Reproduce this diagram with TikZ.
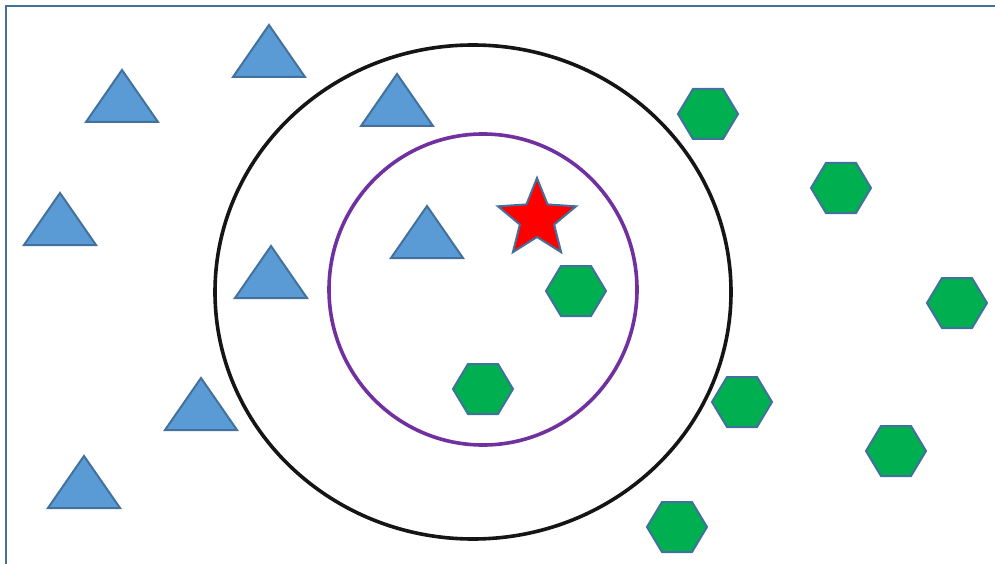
\documentclass[tikz,border=0pt]{standalone}
\usetikzlibrary{shapes.geometric}
\definecolor{edgeblue}{HTML}{41719C}
\definecolor{triblue}{HTML}{5B9BD5}
\definecolor{hexgreen}{HTML}{00B050}
\definecolor{knnpurple}{HTML}{7030A0}
\definecolor{ringblack}{HTML}{151515}
\tikzset{
  tri/.style={draw=edgeblue, fill=triblue, line width=2pt, line join=miter},
  hexa/.style={draw=edgeblue, fill=hexgreen, line width=2pt},
  starry/.style={draw=edgeblue, fill=red, line width=2pt, line join=miter},
  ring/.style={line width=3.6pt},
  frame/.style={draw=edgeblue, line width=2.2pt}
}
\begin{document}
\begin{tikzpicture}[x=1pt,y=-1pt]
\useasboundingbox (0,0) rectangle (995,564);
\fill[white] (0,0) rectangle (995,564);
\draw[frame] (6,570) -- (6,6) -- (1000,6);
% rings
\draw[ring, draw=ringblack] (473,292) ellipse [x radius=258, y radius=247];
\draw[ring, draw=knnpurple] (483,289.5) ellipse [x radius=154, y radius=155.5];
% triangles: apex x, apex y
\foreach \ax/\ay in {122/70, 269/25, 397/74, 60/193, 271/246, 427/206, 201/378, 84/456}{
  \draw[tri] (\ax,\ay) -- (\ax+36,\ay+52) -- (\ax-36,\ay+52) -- cycle;
}
% hexagons: centers
\foreach \cx/\cy in {708/114, 841/188, 957/303, 576/291, 483/389, 742/402, 896/451, 677/527}{
  \draw[hexa] (\cx-30,\cy) -- (\cx-15,\cy-25) -- (\cx+15,\cy-25) -- (\cx+30,\cy) -- (\cx+15,\cy+25) -- (\cx-15,\cy+25) -- cycle;
}
% star
\coordinate (sc) at (537,219);
\draw[starry] (sc) +(-90:41) -- +(-54:18) -- +(-18:41) -- +(18:18) -- +(54:41) -- +(90:18) -- +(126:41) -- +(162:18) -- +(198:41) -- +(234:18) -- cycle;
\end{tikzpicture}
\end{document}
